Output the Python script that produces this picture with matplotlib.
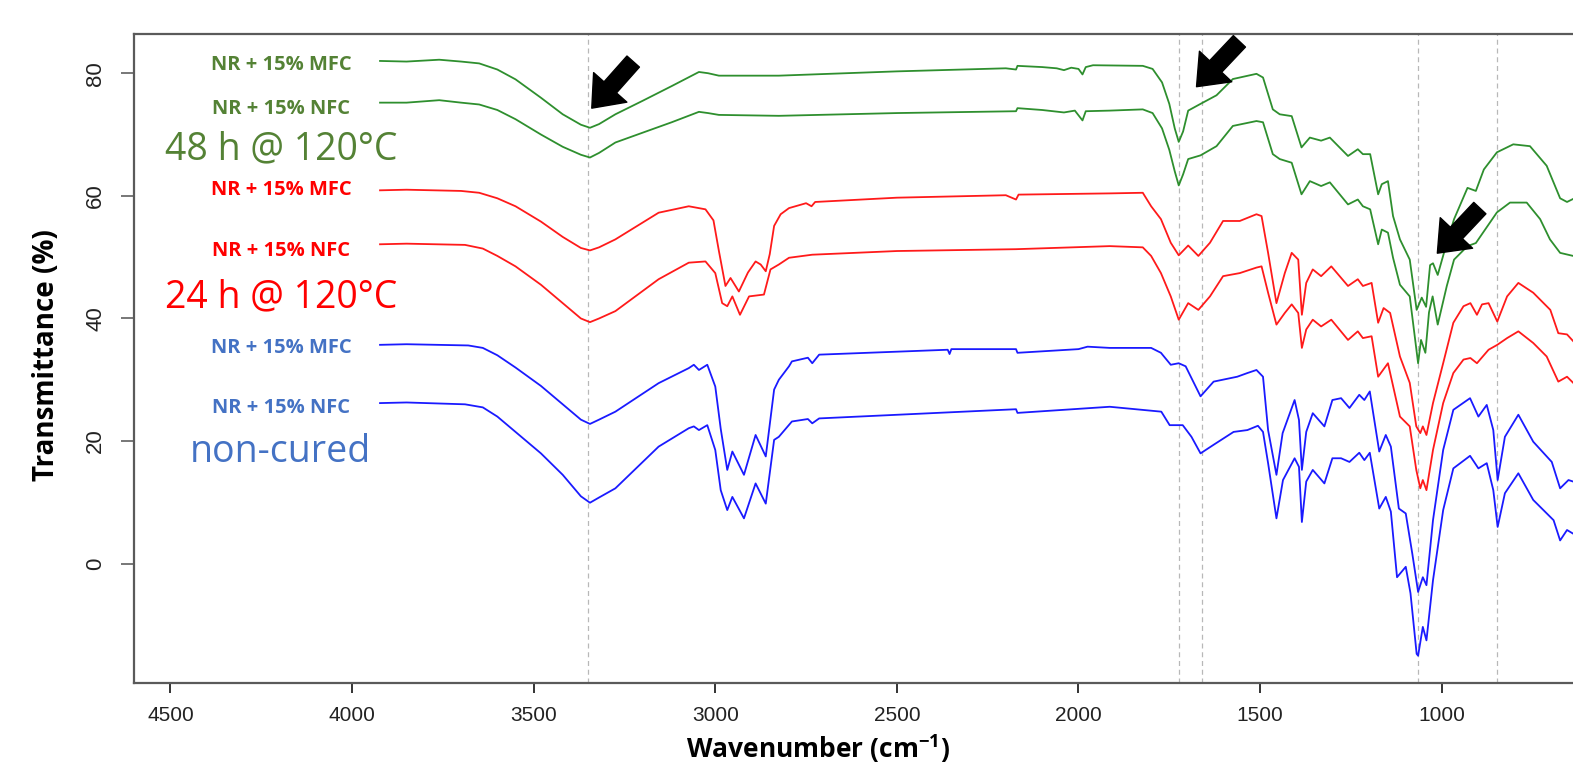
import matplotlib
matplotlib.use('Agg')
import matplotlib.pyplot as plt

# FTIR spectra (wavenumber in cm-1, transmittance in %)
wn_g_mfc = [3923, 3850, 3760, 3700, 3650, 3600, 3550, 3480, 3420, 3370, 3345, 3320, 3275, 3200,
            3120, 3045, 3020, 2990, 2825, 2500, 2200, 2172, 2168, 2100, 2060, 2040, 2020, 2000,
            1989, 1980, 1960, 1823, 1796, 1770, 1750, 1735, 1724, 1712, 1698, 1664, 1620, 1575,
            1510, 1492, 1465, 1446, 1413, 1386, 1363, 1332, 1308, 1258, 1231, 1217, 1197, 1175,
            1165, 1148, 1134, 1115, 1088, 1069, 1055, 1043, 1032, 1024, 1011, 990, 966, 929, 906,
            884, 848, 803, 757, 711, 674, 655, 638]
t_g_mfc = [82.0, 81.9, 82.2, 81.9, 81.6, 80.6, 79.0, 76.0, 73.3, 71.6, 71.1, 71.7, 73.3, 75.5,
           77.9, 80.2, 80.0, 79.6, 79.6, 80.3, 80.8, 80.6, 81.2, 81.0, 80.8, 80.5, 80.9, 80.7,
           79.8, 81.0, 81.3, 81.2, 80.7, 78.5, 75.0, 71.0, 68.8, 70.5, 73.9, 75.0, 76.4, 79.05,
           79.9, 79.3, 74.1, 73.3, 73.0, 67.9, 69.5, 69.0, 69.5, 66.5, 67.6, 66.8, 66.8, 60.25,
           61.9, 62.4, 56.7, 52.9, 49.6, 41.4, 43.4, 41.9, 48.7, 49.0, 47.1, 51.5, 56.2, 61.3,
           60.8, 64.3, 67.1, 68.4, 68.1, 64.9, 59.6, 59.0, 59.5]

wn_g_nfc = [3923, 3850, 3760, 3700, 3650, 3600, 3550, 3480, 3420, 3370, 3345, 3320, 3275, 3200,
            3120, 3045, 3020, 2990, 2825, 2500, 2172, 2168, 2100, 2040, 2010, 1989, 1980, 1914,
            1823, 1796, 1770, 1750, 1735, 1724, 1712, 1698, 1664, 1620, 1575, 1510, 1492, 1465,
            1446, 1413, 1386, 1363, 1332, 1308, 1258, 1231, 1217, 1197, 1175, 1165, 1148, 1134,
            1115, 1088, 1065, 1057, 1045, 1035, 1025, 1011, 986, 966, 929, 906, 848, 812, 766, 729,
            702, 674, 638]
t_g_nfc = [75.2, 75.2, 75.6, 75.2, 74.9, 74.0, 72.5, 70.0, 68.0, 66.7, 66.25, 67.0, 68.7, 70.3,
           72.0, 73.7, 73.5, 73.2, 73.05, 73.5, 73.8, 74.3, 74.0, 73.6, 73.9, 72.3, 73.8, 73.9,
           74.1, 73.5, 71.0, 67.5, 64.0, 61.7, 63.5, 66.0, 66.6, 68.1, 71.4, 72.2, 72.0, 66.8,
           66.0, 65.4, 60.25, 62.4, 61.6, 62.2, 58.6, 59.4, 58.3, 57.8, 52.1, 54.5, 54.0, 49.9,
           45.5, 43.6, 32.7, 36.5, 34.4, 41.0, 43.6, 39.0, 45.3, 49.6, 51.8, 52.3, 57.3, 58.9,
           58.9, 56.2, 52.9, 50.7, 50.2]

wn_r_mfc = [3923, 3850, 3700, 3650, 3600, 3550, 3480, 3420, 3370, 3345, 3320, 3275, 3156, 3073,
            3027, 3005, 2990, 2972, 2958, 2935, 2910, 2889, 2875, 2861, 2850, 2838, 2820, 2797,
            2750, 2735, 2725, 2500, 2200, 2172, 2165, 1914, 1823, 1800, 1773, 1746, 1724, 1698,
            1670, 1638, 1602, 1556, 1510, 1496, 1478, 1455, 1432, 1413, 1395, 1385, 1373, 1355,
            1332, 1304, 1258, 1231, 1217, 1193, 1175, 1160, 1142, 1115, 1088, 1070, 1059, 1052,
            1042, 1024, 996, 968, 940, 921, 903, 889, 871, 847, 820, 789, 748, 701, 679, 655, 638]
t_r_mfc = [60.9, 61.0, 60.8, 60.5, 59.6, 58.3, 55.8, 53.3, 51.5, 51.1, 51.6, 52.9, 57.25, 58.3,
           57.8, 56.0, 51.0, 45.3, 46.6, 44.4, 47.5, 49.3, 48.8, 47.7, 50.5, 55.1, 57.0, 58.0,
           58.8, 58.3, 59.0, 59.7, 60.1, 59.4, 60.2, 60.4, 60.5, 58.3, 56.2, 52.35, 50.3, 51.9,
           50.2, 52.35, 55.9, 55.9, 57.0, 56.7, 50.7, 42.5, 47.4, 50.7, 49.6, 40.6, 45.8, 48.0,
           46.9, 48.5, 45.3, 46.4, 45.3, 45.8, 39.3, 41.7, 40.9, 33.8, 29.5, 22.4, 21.3, 22.4,
           21.0, 26.2, 32.7, 39.3, 42.0, 42.5, 40.6, 42.3, 42.5, 39.5, 43.6, 45.8, 44.2, 41.4,
           37.6, 37.4, 36.3]

wn_r_nfc = [3923, 3850, 3689, 3640, 3600, 3550, 3480, 3420, 3370, 3345, 3320, 3275, 3156, 3073,
            3027, 3000, 2981, 2967, 2953, 2932, 2907, 2866, 2848, 2825, 2797, 2733, 2500, 2172,
            1914, 1823, 1800, 1773, 1746, 1724, 1698, 1670, 1638, 1602, 1556, 1510, 1496, 1478,
            1455, 1432, 1413, 1395, 1385, 1373, 1355, 1332, 1304, 1258, 1231, 1217, 1193, 1175,
            1148, 1115, 1088, 1070, 1059, 1052, 1042, 1024, 996, 968, 940, 921, 903, 871, 847, 820,
            789, 748, 711, 679, 655, 638]
t_r_nfc = [52.1, 52.2, 52.0, 51.4, 50.2, 48.5, 45.5, 42.5, 40.0, 39.4, 40.0, 41.2, 46.4, 49.1,
           49.3, 47.4, 42.5, 42.0, 43.6, 40.6, 43.6, 43.9, 48.0, 48.8, 49.9, 50.4, 51.0, 51.3,
           51.8, 51.6, 50.2, 47.4, 43.6, 39.8, 42.5, 41.4, 43.6, 46.9, 47.4, 48.3, 48.5, 44.2,
           39.0, 40.9, 42.3, 40.9, 35.2, 38.2, 39.8, 38.7, 39.8, 36.5, 37.9, 36.8, 37.1, 30.5,
           32.7, 24.0, 22.4, 15.3, 12.3, 13.65, 12.0, 18.55, 26.2, 31.1, 33.3, 33.55, 32.7, 34.9,
           35.7, 36.8, 37.9, 36.0, 33.8, 29.7, 30.5, 29.5]

wn_b_mfc = [3923, 3850, 3680, 3640, 3600, 3550, 3480, 3420, 3370, 3345, 3320, 3275, 3156, 3073,
            3059, 3045, 3022, 3000, 2985, 2967, 2953, 2921, 2889, 2861, 2838, 2825, 2797, 2789,
            2745, 2733, 2714, 2360, 2355, 2350, 2172, 2168, 2000, 1975, 1914, 1800, 1773, 1746,
            1724, 1705, 1664, 1628, 1563, 1535, 1510, 1492, 1478, 1455, 1438, 1405, 1393, 1385,
            1373, 1355, 1323, 1301, 1277, 1254, 1227, 1213, 1198, 1172, 1154, 1140, 1118, 1099,
            1081, 1065, 1052, 1042, 1024, 996, 968, 922, 899, 876, 858, 846, 826, 789, 748, 697,
            674, 651, 638]
t_b_mfc = [35.7, 35.8, 35.6, 35.2, 34.0, 32.0, 29.0, 26.0, 23.5, 22.8, 23.5, 24.8, 29.45, 31.9,
           32.45, 31.6, 32.45, 28.9, 22.0, 15.3, 18.3, 14.5, 21.0, 17.5, 28.4, 30.0, 32.2, 33.0,
           33.6, 32.7, 34.1, 34.9, 34.2, 35.0, 35.0, 34.4, 35.0, 35.4, 35.2, 35.2, 34.4, 32.45,
           32.7, 32.2, 27.3, 29.7, 30.5, 31.1, 31.6, 30.5, 21.8, 14.5, 21.3, 26.7, 23.45, 15.3,
           21.5, 24.55, 22.4, 26.7, 27.0, 25.4, 27.55, 26.7, 28.1, 18.3, 21.0, 19.1, 9.0, 8.2,
           1.65, -4.6, -2.2, -3.5, 7.1, 18.55, 25.1, 27.0, 24.0, 25.9, 21.8, 13.65, 20.7, 24.3,
           19.9, 16.6, 12.3, 13.65, 13.4]

wn_b_nfc = [3923, 3850, 3689, 3640, 3600, 3550, 3480, 3420, 3370, 3345, 3320, 3275, 3156, 3073,
            3059, 3045, 3022, 3000, 2985, 2967, 2953, 2921, 2889, 2861, 2838, 2825, 2789, 2745,
            2733, 2714, 2172, 2168, 1914, 1772, 1749, 1713, 1689, 1664, 1628, 1573, 1535, 1506,
            1492, 1478, 1455, 1437, 1405, 1393, 1385, 1373, 1355, 1323, 1301, 1277, 1254, 1227,
            1213, 1198, 1172, 1154, 1140, 1123, 1099, 1086, 1069, 1065, 1052, 1042, 1024, 996, 968,
            922, 899, 876, 858, 846, 826, 789, 748, 692, 674, 655, 638]
t_b_nfc = [26.2, 26.3, 26.0, 25.5, 24.0, 21.5, 18.0, 14.5, 11.0, 9.95, 10.8, 12.3, 19.1, 22.1,
           22.4, 21.8, 22.6, 18.55, 12.0, 8.75, 10.9, 7.4, 13.1, 9.8, 20.2, 20.7, 23.2, 23.6,
           22.9, 23.7, 25.2, 24.6, 25.6, 24.8, 22.6, 22.6, 20.7, 18.0, 19.4, 21.5, 21.8, 22.5,
           21.5, 16.4, 7.4, 13.65, 17.2, 15.8, 6.8, 13.4, 15.3, 13.1, 17.2, 17.2, 16.6, 18.1,
           16.9, 18.1, 9.0, 10.9, 8.5, -2.2, -0.5, -4.8, -14.7, -15.0, -10.3, -12.5, -2.7, 8.75,
           15.55, 17.6, 15.55, 16.4, 12.0, 6.0, 11.5, 14.75, 10.4, 7.1, 3.8, 5.5, 4.9]

# marked bands
band_lines = [3350, 1723, 1661, 1065, 848]

# arrows: (tail, head) in data units
arrows = [((3226, 81.9), (3340, 74.3)),
          ((1557, 85.2), (1675, 77.8)),
          ((895, 58.0), (1012, 50.65))]

series = [
    (wn_g_mfc, t_g_mfc, '#2e8f2e'),
    (wn_g_nfc, t_g_nfc, '#2e8f2e'),
    (wn_r_mfc, t_r_mfc, '#ff1a1a'),
    (wn_r_nfc, t_r_nfc, '#ff1a1a'),
    (wn_b_mfc, t_b_mfc, '#1a1aff'),
    (wn_b_nfc, t_b_nfc, '#1a1aff'),
]

# labels: text, baseline transmittance, colour, size, weight
labels = [
    ('NR + 15% MFC', 80.6, '#548235', 14.5, 'bold'),
    ('NR + 15% NFC', 73.3, '#548235', 14.5, 'bold'),
    ('48 h @ 120°C', 66.0, '#548235', 27, 'normal'),
    ('NR + 15% MFC', 60.1, '#ff0000', 14.5, 'bold'),
    ('NR + 15% NFC', 50.2, '#ff0000', 14.5, 'bold'),
    ('24 h @ 120°C', 41.8, '#ff0000', 27, 'normal'),
    ('NR + 15% MFC', 34.4, '#4472c4', 14.5, 'bold'),
    ('NR + 15% NFC', 24.55, '#4472c4', 14.5, 'bold'),
    ('non-cured', 16.6, '#4472c4', 27, 'normal'),
]
label_x = 4196

plt.rcParams['mathtext.default'] = 'regular'

fig = plt.figure(figsize=(15.73, 7.65), dpi=100)
ax = fig.add_axes([0.0855, 0.1076, 0.9234, 0.848])

for xb in band_lines:
    ax.axvline(xb, color='#b8b8b8', lw=0.9, ls=(0, (4, 3)), zorder=1)

for wn, t, c in series:
    ax.plot(wn, t, color=c, lw=1.3, zorder=3)

for tail, head in arrows:
    ax.annotate('', xy=head, xytext=tail,
                arrowprops=dict(arrowstyle='simple,head_length=1.0,head_width=1.6,tail_width=0.6',
                                fc='black', ec='black', mutation_scale=20,
                                shrinkA=0, shrinkB=0), zorder=5)

for txt, yb, c, fs, fw in labels:
    ax.text(label_x, yb, txt, color=c, fontsize=fs, fontweight=fw,
            family='Open Sans', ha='center', va='baseline', zorder=4)

ax.set_xlim(4599, 600)
ax.set_ylim(-19.4, 86.4)
ax.set_xticks([4500, 4000, 3500, 3000, 2500, 2000, 1500, 1000])
ax.set_yticks([0, 20, 40, 60, 80])

for side in ['left', 'bottom', 'top', 'right']:
    ax.spines[side].set_color('#5a5a5a')
    ax.spines[side].set_linewidth(1.6)

ax.tick_params(axis='x', length=7.5, width=1.4, color='#333333', pad=9,
               labelsize=15, labelcolor='#222222')
ax.tick_params(axis='y', length=9.5, width=1.4, color='#777777', pad=11,
               labelsize=16, labelcolor='#222222')
for lab in ax.get_xticklabels() + ax.get_yticklabels():
    lab.set_family('Liberation Sans')
for lab in ax.get_yticklabels():
    lab.set_rotation(90)
    lab.set_va('center')

ax.set_xlabel('Wavenumber (cm$^{-1}$)', family='Open Sans', fontweight='bold', fontsize=19)
ax.xaxis.set_label_coords(0.4706, -0.077)
ax.set_ylabel('Transmittance (%)', family='Open Sans', fontweight='bold', fontsize=20)
ax.yaxis.set_label_coords(-0.0609, 0.505)
ax.yaxis.label.set_va('center')

fig.savefig('out.png', dpi=100)
